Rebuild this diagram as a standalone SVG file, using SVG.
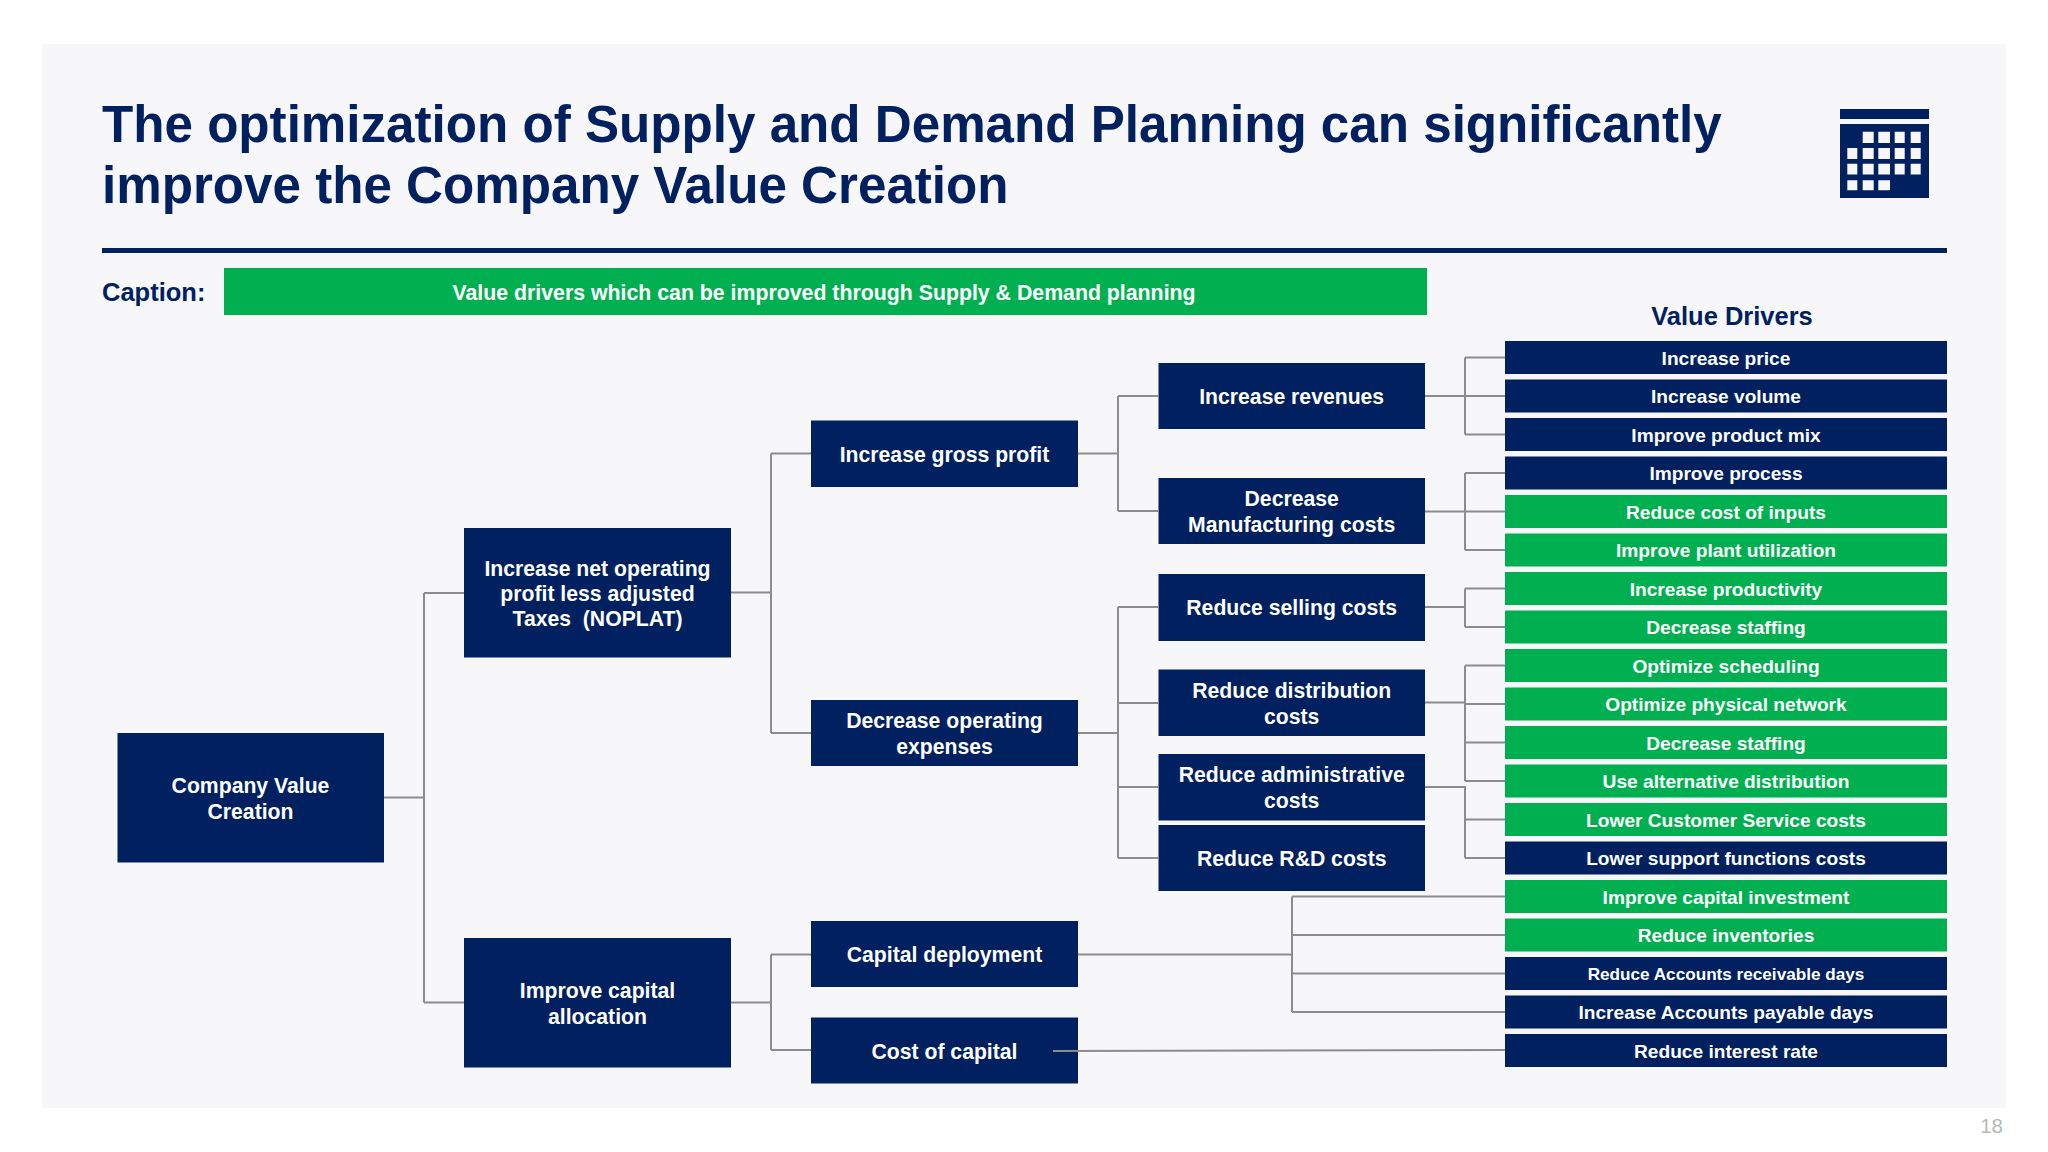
<svg xmlns="http://www.w3.org/2000/svg" width="2048" height="1152" viewBox="0 0 2048 1152">
<style>
text{font-family:"Liberation Sans",Arial,sans-serif;font-weight:700;white-space:pre}
.n{fill:#002060}.g{fill:#00B050}
.t{fill:#fff;font-size:21.2px;text-anchor:middle}
.r{fill:#fff;font-size:19.15px;text-anchor:middle}
.c{fill:none;stroke:#8c8c8c;stroke-width:2}
.title{fill:#002060;font-size:51.15px}
</style>
<rect width="2048" height="1152" fill="#fff"/>
<rect x="42" y="44" width="1964" height="1064" fill="#f7f7f9"/>
<g id="header">
<text class="title" x="102" y="141.5">The optimization of Supply and Demand Planning can significantly</text>
<text class="title" x="102" y="203">improve the Company Value Creation</text>
<rect x="102" y="248" width="1845" height="5" fill="#002060"/>
<text x="102" y="301" fill="#002060" font-size="25.5">Caption:</text>
<rect class="g" x="224" y="268" width="1203" height="47"/>
<text class="t" x="824" y="300" style="font-size:21.3px">Value drivers which can be improved through Supply &amp; Demand planning</text>
<text x="1732" y="325" fill="#002060" font-size="25.5" text-anchor="middle">Value Drivers</text>
</g>
<g id="icon" fill="#002060">
<rect x="1840" y="109" width="89" height="10"/>
<path fill-rule="evenodd" d="M1840 124h89v74h-89zM1862.7 131.7h11v11.3h-11zM1878.3 131.7h11.7v11.3h-11.7zM1894.7 131.7h10v11.3h-10zM1910.7 131.7h10v11.3h-10zM1847.3 148h10v11h-10zM1862.7 148h11v11h-11zM1878.3 148h11.7v11h-11.7zM1894.7 148h10v11h-10zM1910.7 148h10v11h-10zM1847.3 163.7h10v10.7h-10zM1862.7 163.7h11v10.7h-11zM1878.3 163.7h11.7v10.7h-11.7zM1894.7 163.7h10v10.7h-10zM1910.7 163.7h10v10.7h-10zM1847.3 180.3h10v10h-10zM1862.7 180.3h11v10h-11zM1878.3 180.3h11.7v10h-11.7z"/>
</g>
<g id="connectors">
<path class="c" d="M384 797.5H424M424 593V1002.500M424 593H464M424 1002.500H464"/>
<path class="c" d="M731 592.500H771M771 453.500V733M771 453.500H811M771 733H811"/>
<path class="c" d="M731 1002.500H771M771 954.500V1050M771 954.500H811M771 1050H811"/>
<path class="c" d="M1078 453.500H1118M1118 396V511M1118 396H1158M1118 511H1158"/>
<path class="c" d="M1078 733H1118M1118 607V858M1118 607H1158M1118 703H1158M1118 787H1158M1118 858H1158"/>
<path class="c" d="M1425 396H1505M1465 357.500V434.500M1465 357.500H1505M1465 434.500H1505"/>
<path class="c" d="M1425 511.500H1505M1465 473V550M1465 473H1505M1465 550H1505"/>
<path class="c" d="M1425 607H1465M1465 588.500V627M1465 588.500H1505M1465 627H1505"/>
<path class="c" d="M1425 702.500H1465M1465 665.500V781M1465 665.500H1505M1465 704H1505M1465 742.500H1505M1465 781H1505"/>
<path class="c" d="M1425 787H1465V858M1465 819.500H1505M1465 858H1505"/>
<path class="c" d="M1078 954.500H1292M1292 896.500V1012M1292 896.500H1505M1292 935H1505M1292 973.500H1505M1292 1012H1505"/>
</g>
<g id="company-value"><rect class="n" x="117.500" y="733" width="266.500" height="129.500"/><text class="t" x="250.500" y="793">Company Value</text><text class="t" x="250.500" y="819">Creation</text></g>
<g id="noplat"><rect class="n" x="464" y="528" width="267" height="129.500"/><text class="t" x="597.500" y="575.700">Increase net operating</text><text class="t" x="597.500" y="601.200">profit less adjusted</text><text class="t" x="597.500" y="626.200">Taxes  (NOPLAT)</text></g>
<g id="capital-allocation"><rect class="n" x="464" y="938" width="267" height="129.500"/><text class="t" x="597.500" y="998">Improve capital</text><text class="t" x="597.500" y="1023.500">allocation</text></g>
<g id="gross-profit"><rect class="n" x="811" y="420.500" width="267" height="66.500"/><text class="t" x="944.500" y="461.500">Increase gross profit</text></g>
<g id="opex"><rect class="n" x="811" y="700" width="267" height="66"/><text class="t" x="944.500" y="728">Decrease operating</text><text class="t" x="944.500" y="754">expenses</text></g>
<g id="capital-deployment"><rect class="n" x="811" y="921" width="267" height="66"/><text class="t" x="944.500" y="962">Capital deployment</text></g>
<g id="cost-of-capital"><rect class="n" x="811" y="1017.500" width="267" height="66"/><text class="t" x="944.500" y="1059">Cost of capital</text></g>
<g id="revenues"><rect class="n" x="1158.500" y="363" width="266.500" height="66"/><text class="t" x="1291.700" y="404">Increase revenues</text></g>
<g id="manufacturing"><rect class="n" x="1158.500" y="478" width="266.500" height="66"/><text class="t" x="1291.700" y="506">Decrease</text><text class="t" x="1291.700" y="532">Manufacturing costs</text></g>
<g id="selling"><rect class="n" x="1158.500" y="574" width="266.500" height="67"/><text class="t" x="1291.700" y="615">Reduce selling costs</text></g>
<g id="distribution"><rect class="n" x="1158.500" y="669.500" width="266.500" height="66.500"/><text class="t" x="1291.700" y="698">Reduce distribution</text><text class="t" x="1291.700" y="724">costs</text></g>
<g id="administrative"><rect class="n" x="1158.500" y="754" width="266.500" height="66.500"/><text class="t" x="1291.700" y="782">Reduce administrative</text><text class="t" x="1291.700" y="808">costs</text></g>
<g id="rd"><rect class="n" x="1158.500" y="825" width="266.500" height="66"/><text class="t" x="1291.700" y="866">Reduce R&amp;D costs</text></g>
<g id="d1"><rect class="n" x="1505" y="341" width="442" height="33"/><text class="r" x="1726" y="364.500">Increase price</text></g>
<g id="d2"><rect class="n" x="1505" y="379.500" width="442" height="33"/><text class="r" x="1726" y="403">Increase volume</text></g>
<g id="d3"><rect class="n" x="1505" y="418" width="442" height="33"/><text class="r" x="1726" y="441.500">Improve product mix</text></g>
<g id="d4"><rect class="n" x="1505" y="456.500" width="442" height="33"/><text class="r" x="1726" y="480">Improve process</text></g>
<g id="d5"><rect class="g" x="1505" y="495" width="442" height="33"/><text class="r" x="1726" y="518.500">Reduce cost of inputs</text></g>
<g id="d6"><rect class="g" x="1505" y="533.500" width="442" height="33"/><text class="r" x="1726" y="557">Improve plant utilization</text></g>
<g id="d7"><rect class="g" x="1505" y="572" width="442" height="33"/><text class="r" x="1726" y="595.500">Increase productivity</text></g>
<g id="d8"><rect class="g" x="1505" y="610.500" width="442" height="33"/><text class="r" x="1726" y="634">Decrease staffing</text></g>
<g id="d9"><rect class="g" x="1505" y="649" width="442" height="33"/><text class="r" x="1726" y="672.500">Optimize scheduling</text></g>
<g id="d10"><rect class="g" x="1505" y="687.500" width="442" height="33"/><text class="r" x="1726" y="711">Optimize physical network</text></g>
<g id="d11"><rect class="g" x="1505" y="726" width="442" height="33"/><text class="r" x="1726" y="749.500">Decrease staffing</text></g>
<g id="d12"><rect class="g" x="1505" y="764.500" width="442" height="33"/><text class="r" x="1726" y="788">Use alternative distribution</text></g>
<g id="d13"><rect class="g" x="1505" y="803" width="442" height="33"/><text class="r" x="1726" y="826.500">Lower Customer Service costs</text></g>
<g id="d14"><rect class="n" x="1505" y="841.500" width="442" height="33"/><text class="r" x="1726" y="865">Lower support functions costs</text></g>
<g id="d15"><rect class="g" x="1505" y="880" width="442" height="33"/><text class="r" x="1726" y="903.500">Improve capital investment</text></g>
<g id="d16"><rect class="g" x="1505" y="918.500" width="442" height="33"/><text class="r" x="1726" y="942">Reduce inventories</text></g>
<g id="d17"><rect class="n" x="1505" y="957" width="442" height="33"/><text class="r" x="1726" y="980" style="font-size:17.15px">Reduce Accounts receivable days</text></g>
<g id="d18"><rect class="n" x="1505" y="995.500" width="442" height="33"/><text class="r" x="1726" y="1019">Increase Accounts payable days</text></g>
<g id="d19"><rect class="n" x="1505" y="1034" width="442" height="33"/><text class="r" x="1726" y="1058">Reduce interest rate</text></g>
<path class="c" d="M1053 1051L1505 1050"/>
<text x="2003" y="1133" fill="#b8b8b8" font-size="20.5" text-anchor="end" style="font-weight:400">18</text>
</svg>
